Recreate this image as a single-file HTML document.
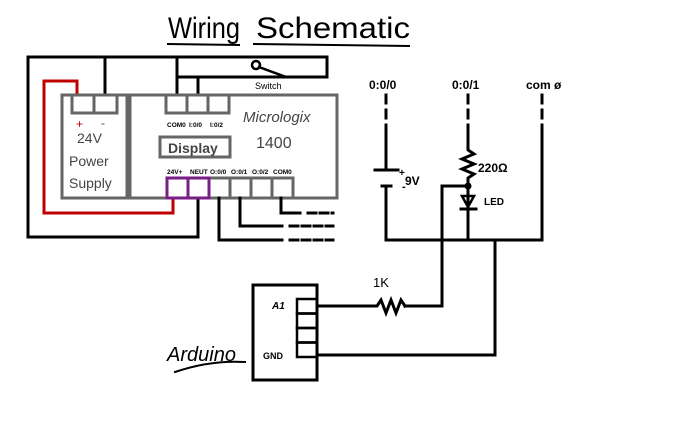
<!DOCTYPE html>
<html><head><style>
html,body{margin:0;padding:0;background:#fff;}
svg{display:block;}
text{font-family:"Liberation Sans",sans-serif;}
</style></head><body>
<svg width="690" height="444" viewBox="0 0 690 444" xmlns="http://www.w3.org/2000/svg">
<!-- Title -->
<text x="168" y="38" font-size="30" fill="#000" textLength="72" lengthAdjust="spacingAndGlyphs">Wiring</text>
<text x="256" y="38" font-size="30" fill="#000" textLength="154" lengthAdjust="spacingAndGlyphs">Schematic</text>
<line x1="167" y1="44" x2="240" y2="45" stroke="#000" stroke-width="2"/>
<line x1="253" y1="44" x2="410" y2="46" stroke="#000" stroke-width="2"/>

<g fill="none" stroke-linecap="square">
<polyline points="105,95 105,57 28,57 28,237 198,237 198,198" stroke="#000" stroke-width="3"/>
<polyline points="105,57 327,57 327,77 177,77" stroke="#000" stroke-width="3"/>
<line x1="177" y1="57" x2="177" y2="95" stroke="#000" stroke-width="3"/>
<line x1="198" y1="77" x2="198" y2="95" stroke="#000" stroke-width="3"/>
<polyline points="77,95 77,81 44,81 44,213 173,213 173,198" stroke="#c00000" stroke-width="3"/>
<circle cx="256" cy="65" r="4" stroke="#000" stroke-width="2.5"/>
<line x1="259" y1="67" x2="286" y2="77" stroke="#000" stroke-width="2.5"/>
<rect x="62" y="95" width="65" height="103" stroke="#666" stroke-width="3"/>
<rect x="130" y="95" width="207" height="103" stroke="#666" stroke-width="3"/>
<rect x="72" y="95" width="22" height="18" stroke="#666" stroke-width="3"/>
<rect x="94" y="95" width="23" height="18" stroke="#666" stroke-width="3"/>
<rect x="166" y="95" width="21" height="18" stroke="#666" stroke-width="3"/>
<rect x="187" y="95" width="21" height="18" stroke="#666" stroke-width="3"/>
<rect x="208" y="95" width="21" height="18" stroke="#666" stroke-width="3"/>
<rect x="160" y="137" width="70" height="20" stroke="#666" stroke-width="3"/>
<rect x="209" y="178" width="21" height="20" stroke="#666" stroke-width="3"/>
<rect x="230" y="178" width="21" height="20" stroke="#666" stroke-width="3"/>
<rect x="251" y="178" width="21" height="20" stroke="#666" stroke-width="3"/>
<rect x="272" y="178" width="21" height="20" stroke="#666" stroke-width="3"/>
<rect x="167" y="178" width="21" height="20" stroke="#7a1f8a" stroke-width="3"/>
<rect x="188" y="178" width="21" height="20" stroke="#7a1f8a" stroke-width="3"/>
<polyline points="219,198 219,240 282,240" stroke="#000" stroke-width="3"/>
<line x1="290" y1="240" x2="333" y2="240" stroke="#000" stroke-width="3" stroke-dasharray="8,4"/>
<polyline points="240,198 240,226 282,226" stroke="#000" stroke-width="3"/>
<line x1="290" y1="226" x2="333" y2="226" stroke="#000" stroke-width="3" stroke-dasharray="8,4"/>
<polyline points="281,198 281,213 300,213" stroke="#000" stroke-width="3"/>
<line x1="308" y1="213" x2="333" y2="213" stroke="#000" stroke-width="3" stroke-dasharray="8,4"/>

<line x1="386" y1="95" x2="386" y2="130" stroke="#000" stroke-width="3" stroke-dasharray="8,7"/>
<line x1="386" y1="130" x2="386" y2="170" stroke="#000" stroke-width="3"/>
<line x1="375" y1="170" x2="398" y2="170" stroke="#000" stroke-width="3"/>
<line x1="382" y1="186" x2="391" y2="186" stroke="#000" stroke-width="3"/>
<polyline points="386,186 386,240 542,240" stroke="#000" stroke-width="3"/>
<line x1="468" y1="95" x2="468" y2="125" stroke="#000" stroke-width="3" stroke-dasharray="8,7"/>
<polyline points="468,125 468,150 474,154 462,159 474,164 462,169 474,174 468,178 468,240" stroke="#000" stroke-width="3"/>
<polygon points="462,196 474,196 468,207" stroke="#000" stroke-width="2.5"/>
<line x1="461" y1="209" x2="476" y2="209" stroke="#000" stroke-width="3"/>
<line x1="542" y1="95" x2="542" y2="125" stroke="#000" stroke-width="3" stroke-dasharray="8,7"/>
<line x1="542" y1="125" x2="542" y2="240" stroke="#000" stroke-width="3"/>
<polyline points="468,186 442,186 442,306 405,306" stroke="#000" stroke-width="3"/>
<polyline points="317,306 377,306 381,300 386,313 391,300 396,313 401,300 405,306" stroke="#000" stroke-width="3"/>
<polyline points="495,240 495,355 317,355" stroke="#000" stroke-width="3"/>
<rect x="253" y="285" width="64" height="95" stroke="#000" stroke-width="3"/>
<rect x="297" y="299" width="20" height="14.5" stroke="#000" stroke-width="2.5"/>
<rect x="297" y="313.5" width="20" height="14.5" stroke="#000" stroke-width="2.5"/>
<rect x="297" y="328" width="20" height="14.5" stroke="#000" stroke-width="2.5"/>
<rect x="297" y="342.5" width="20" height="14.5" stroke="#000" stroke-width="2.5"/>
<path d="M175,372 Q210,360 245,362" stroke="#000" stroke-width="2"/>
</g>
<circle cx="468" cy="186" r="3.5" fill="#000"/>

<g fill="#000">
<text x="243" y="122" font-size="15" fill="#444" font-style="italic">Micrologix</text>
<text x="256" y="148" font-size="16" fill="#444">1400</text>
<text x="168" y="153" font-size="14" font-weight="bold" fill="#444">Display</text>
<text x="77" y="143" font-size="14" fill="#444">24V</text>
<text x="69" y="166" font-size="14" fill="#444">Power</text>
<text x="69" y="188" font-size="14" fill="#444">Supply</text>
<text x="76" y="128" font-size="12" fill="#c00000">+</text>
<text x="101" y="127" font-size="12" fill="#444">-</text>
<text x="255" y="89" font-size="9">Switch</text>
<text x="167" y="127" font-size="6.5" font-weight="bold">COM0</text>
<text x="189" y="127" font-size="6.5" font-weight="bold">I:0/0</text>
<text x="210" y="127" font-size="6.5" font-weight="bold">I:0/2</text>
<text x="167" y="174" font-size="6.5" font-weight="bold">24V+</text>
<text x="190" y="174" font-size="6.5" font-weight="bold">NEUT</text>
<text x="210" y="174" font-size="6.5" font-weight="bold">O:0/0</text>
<text x="231" y="174" font-size="6.5" font-weight="bold">O:0/1</text>
<text x="252" y="174" font-size="6.5" font-weight="bold">O:0/2</text>
<text x="273" y="174" font-size="6.5" font-weight="bold">COM0</text>
<text x="369" y="89" font-size="12" font-weight="bold">0:0/0</text>
<text x="452" y="89" font-size="12" font-weight="bold">0:0/1</text>
<text x="526" y="89" font-size="12" font-weight="bold">com ø</text>
<text x="399" y="176" font-size="10" font-weight="bold">+</text>
<text x="405" y="185" font-size="12" font-weight="bold">9V</text>
<text x="402" y="190" font-size="11" font-weight="bold">-</text>
<text x="478" y="172" font-size="12" font-weight="bold">220Ω</text>
<text x="484" y="205" font-size="10" font-weight="bold">LED</text>
<text x="373" y="287" font-size="13">1K</text>
<text x="272" y="309" font-size="10" font-weight="bold" font-style="italic">A1</text>
<text x="263" y="359" font-size="9" font-weight="bold">GND</text>
<text x="167" y="361" font-size="20" font-style="italic">Arduino</text>
</g>
</svg>
</body></html>
